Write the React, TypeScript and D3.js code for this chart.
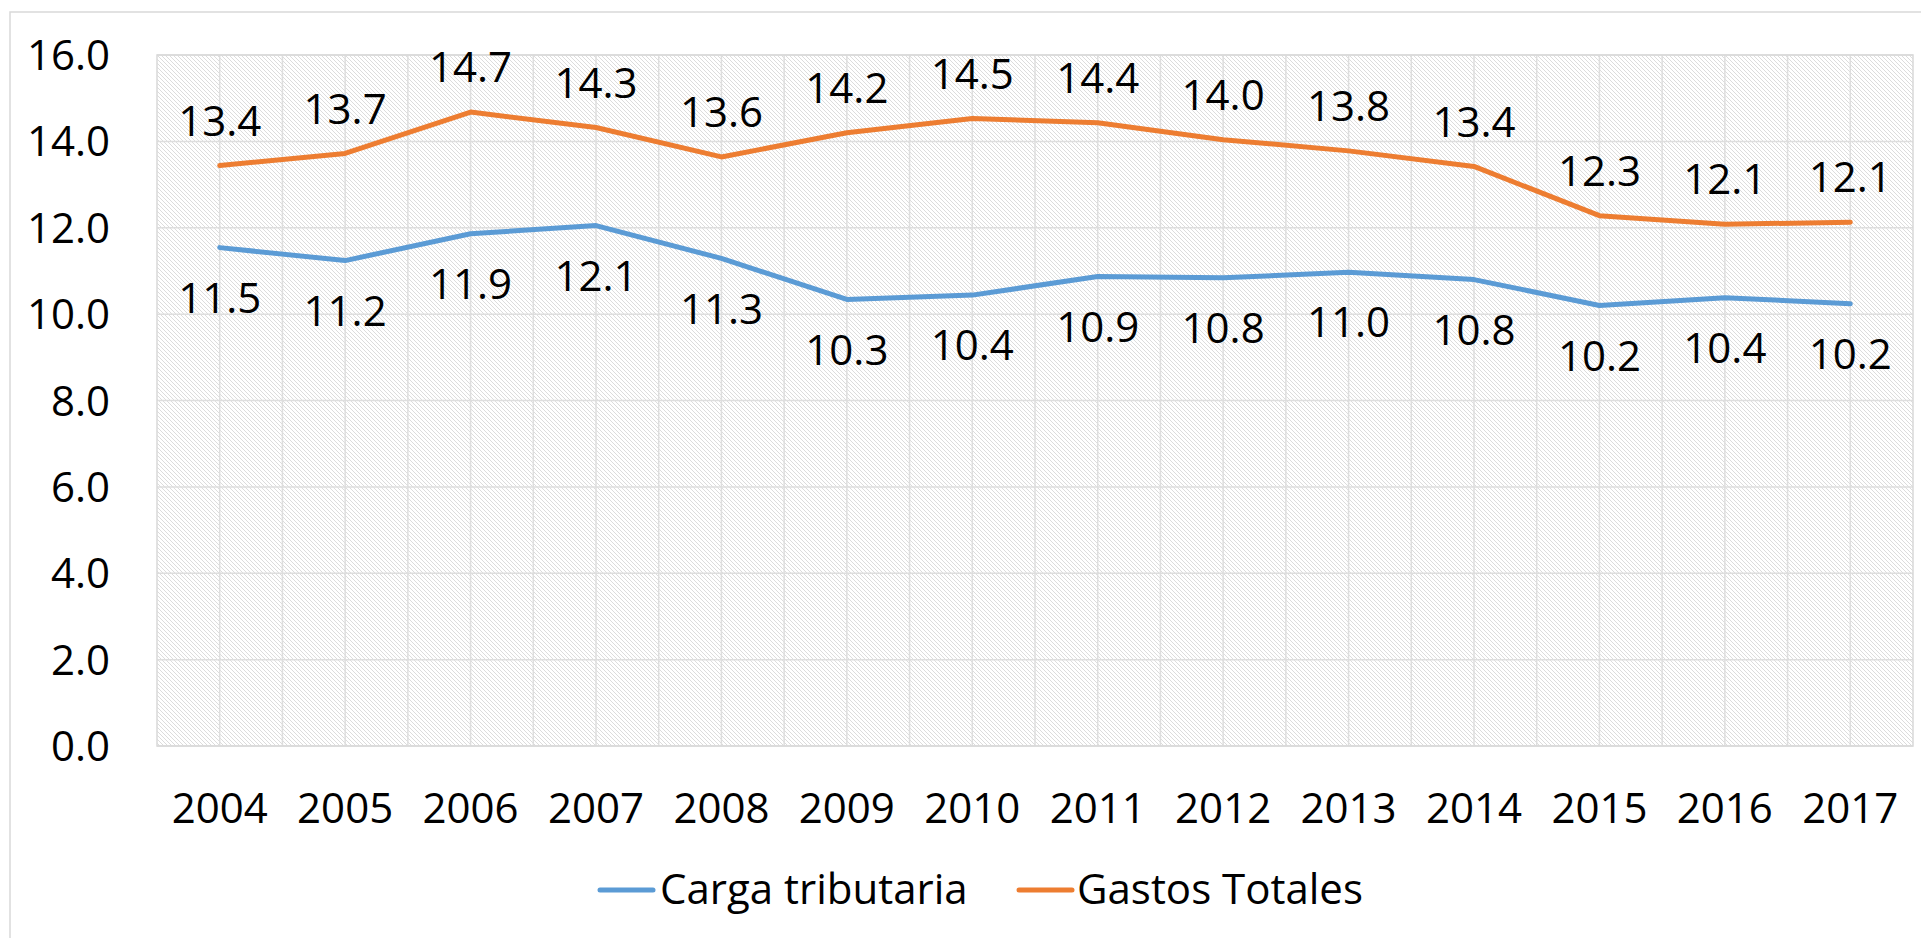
import React from "react";
import * as d3 from "d3";

// years on the x axis
const years = ["2004", "2005", "2006", "2007", "2008", "2009", "2010", "2011", "2012", "2013", "2014", "2015", "2016", "2017"];

// Carga tributaria (% PIB)
const carga = [11.54, 11.24, 11.86, 12.05, 11.29, 10.34, 10.44, 10.87, 10.84, 10.97, 10.8, 10.2, 10.38, 10.24];

// Gastos Totales (% PIB)
const gastos = [13.44, 13.72, 14.68, 14.32, 13.64, 14.2, 14.53, 14.43, 14.04, 13.78, 13.42, 12.28, 12.08, 12.13];

const yTicks = [0, 2, 4, 6, 8, 10, 12, 14, 16];

const FONT = "'Open Sans', sans-serif";

export default function App() {
  const width = 1921;
  const height = 938;
  const margin = { top: 55, right: 8, bottom: 192, left: 157 };
  const plotW = width - margin.left - margin.right;
  const plotH = height - margin.top - margin.bottom;

  const x = d3.scaleBand().domain(years).range([0, plotW]);
  const y = d3.scaleLinear().domain([0, 16]).range([plotH, 0]);
  const cx = (d: string) => (x(d) ?? 0) + x.bandwidth() / 2;

  const line = d3
    .line<number>()
    .x((_, i) => cx(years[i]))
    .y((v) => y(v));

  // minor vertical grid every half category
  const vLines = d3.range(1, years.length * 2).map((k) => (k * x.bandwidth()) / 2);

  const series = [
    { name: "Carga tributaria", values: carga, color: "#5B9BD5", dy: 50, lx: 600, tx: 660 },
    { name: "Gastos Totales", values: gastos, color: "#ED7D31", dy: -45, lx: 1019, tx: 1077 },
  ];

  return (
    <svg width={width} height={height} style={{ position: "absolute", left: 0, top: 0, background: "#fff" }}>
      <defs>
        <pattern id="hatch" width="4" height="4" patternUnits="userSpaceOnUse">
          <path d="M-1,-1 L5,5 M-1,3 L1,5 M3,-1 L5,1" stroke="#dcdcdc" strokeWidth="1" />
        </pattern>
      </defs>
      <rect x={10} y={12} width={width + 10} height={height + 10} fill="#fff" stroke="#D9D9D9" strokeWidth={1.5} />

      <g transform={`translate(${margin.left},${margin.top})`}>
        <rect width={plotW} height={plotH} fill="url(#hatch)" />
        {yTicks.map((t) => (
          <line key={t} x1={0} x2={plotW} y1={y(t)} y2={y(t)} stroke="#DEDEDE" strokeWidth={1.5} />
        ))}
        {vLines.map((v, i) => (
          <line key={i} x1={v} x2={v} y1={0} y2={plotH} stroke="#DEDEDE" strokeWidth={1.5} />
        ))}
        <rect width={plotW} height={plotH} fill="none" stroke="#D9D9D9" strokeWidth={1.5} />

        {/* y axis labels */}
        {yTicks.map((t) => (
          <text
            key={t}
            x={-47}
            y={y(t)}
            dy="0.36em"
            textAnchor="end"
            fontFamily={FONT}
            fontSize={42}
            fill="#000"
          >
            {t.toFixed(1)}
          </text>
        ))}

        {/* x axis labels */}
        {years.map((yr) => (
          <text
            key={yr}
            x={cx(yr)}
            y={plotH + 62}
            dy="0.36em"
            textAnchor="middle"
            fontFamily={FONT}
            fontSize={42}
            fill="#000"
          >
            {yr}
          </text>
        ))}

        {series.map((s) => (
          <g key={s.name}>
            <path d={line(s.values) ?? ""} fill="none" stroke={s.color} strokeWidth={5} strokeLinejoin="round" strokeLinecap="round" />
            {s.values.map((v, i) => (
              <text
                key={i}
                x={cx(years[i])}
                y={y(v) + s.dy}
                dy="0.36em"
                textAnchor="middle"
                fontFamily={FONT}
                fontSize={42}
                fill="#000"
              >
                {v.toFixed(1)}
              </text>
            ))}
          </g>
        ))}
      </g>

      {/* legend */}
      {series.map((s) => (
        <g key={s.name}>
          <line x1={s.lx} x2={s.lx + 53} y1={890} y2={890} stroke={s.color} strokeWidth={5} strokeLinecap="round" />
          <text x={s.tx} y={904} fontFamily={FONT} fontSize={42} fill="#000">
            {s.name}
          </text>
        </g>
      ))}
    </svg>
  );
}
